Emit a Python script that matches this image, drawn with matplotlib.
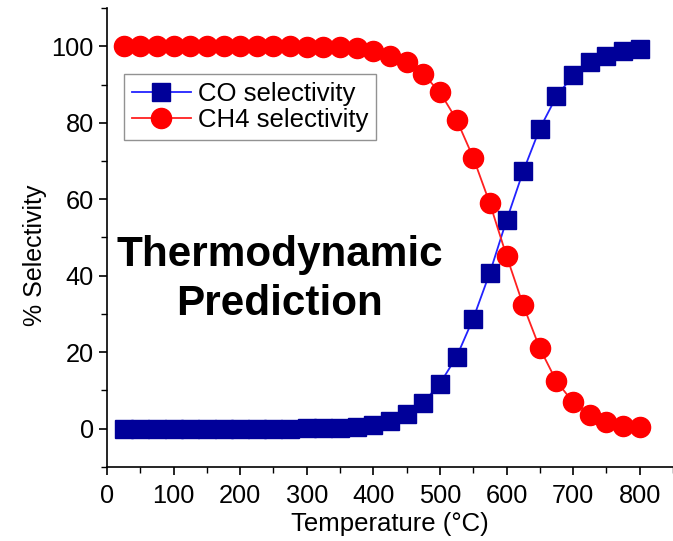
import numpy as np
import matplotlib
matplotlib.use("Agg")
import matplotlib.pyplot as plt
from matplotlib.ticker import MultipleLocator

# temperature points (deg C)
temperature = list(range(25, 801, 25))

# CO selectivity (%)
co_sel = [0.0, 0.0, 0.0, 0.0, 0.0, 0.0, 0.0, 0.0, 0.0, 0.0,
          0.0, 0.05, 0.1, 0.2, 0.4, 1.0, 2.1, 3.9, 6.8, 11.8,
          18.8, 28.8, 40.8, 54.5, 67.3, 78.5, 86.9, 92.4, 95.8, 97.6,
          98.7, 99.2]

# CH4 selectivity (%)
ch4_sel = [100.0, 100.0, 100.0, 100.0, 100.0, 100.0, 100.0, 100.0, 100.0, 100.0,
           100.0, 99.9, 99.9, 99.8, 99.6, 98.9, 97.6, 95.8, 92.7, 88.0,
           80.8, 70.9, 58.9, 45.2, 32.3, 21.0, 12.4, 6.9, 3.7, 1.7,
           0.8, 0.4]

plt.rcParams['font.family'] = ['Liberation Sans', 'DejaVu Sans']

fig = plt.figure(figsize=(6.73, 5.41), dpi=100)
ax = fig.add_axes([0.159, 0.137, 0.841, 0.848])

ax.plot(temperature, co_sel, color='#2222ff', lw=1.3, marker='s', ms=13.5,
        mfc='#000099', mec='#000099', label='CO selectivity')
ax.plot(temperature, ch4_sel, color='#ff2020', lw=1.3, marker='o', ms=14.5,
        mfc='#ff0000', mec='#ff0000', label='CH4 selectivity')

ax.set_xlim(0, 850)
ax.set_ylim(-10, 110)
ax.xaxis.set_minor_locator(MultipleLocator(50))
ax.yaxis.set_minor_locator(MultipleLocator(10))
ax.set_xticks(np.arange(0, 801, 100))
ax.set_yticks(np.arange(0, 101, 20))

ax.spines['top'].set_visible(False)
ax.spines['right'].set_visible(False)
for s in ('left', 'bottom'):
    ax.spines[s].set_linewidth(1.2)
ax.tick_params(which='major', direction='out', length=6, width=1.2, labelsize=18.3)
ax.tick_params(axis='x', which='major', pad=6)
ax.tick_params(which='minor', direction='out', length=4, width=1.0)

ax.set_xlabel('Temperature (°C)', fontsize=18.5, labelpad=3)
ax.set_ylabel('% Selectivity', fontsize=18, labelpad=3, y=0.462)

ax.text(259, 39.0, 'Thermodynamic\nPrediction', ha='center', va='center',
        fontsize=30.4, fontweight='bold', linespacing=1.3)

leg = ax.legend(loc='upper left', bbox_to_anchor=(0.030, 0.856), fontsize=18.5,
                frameon=True, fancybox=False, edgecolor='#777777',
                handlelength=2.3, borderpad=0.3, labelspacing=0.1,
                handletextpad=0.27, borderaxespad=0)
leg.get_frame().set_linewidth(1.0)

fig.savefig('out.png', dpi=100)
